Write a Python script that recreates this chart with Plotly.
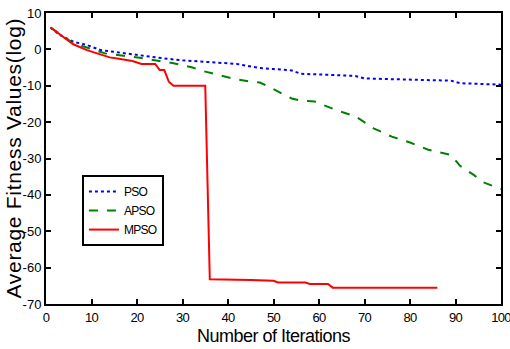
import plotly.graph_objects as go

# PSO
pso_x = [1, 3, 6, 9, 12, 16, 20, 26, 30, 36, 42, 44, 47, 50, 54, 56, 62, 68, 70, 80, 89, 91, 100]
pso_y = [6.0, 4.0, 2.1, 1.2, -0.2, -0.9, -1.5, -2.5, -3.0, -3.5, -4.0, -4.5, -5.1, -5.4, -5.8, -6.7, -7.0, -7.3, -8.0, -8.3, -8.6, -9.3, -9.7]

# APSO
apso_x = [1, 6, 13, 21, 28, 32, 34, 38, 41, 45, 47, 49, 54, 56, 59, 64, 68, 72, 76, 80, 84, 89, 91, 94, 96, 100]
apso_y = [6.0, 1.7, -1.1, -2.4, -3.8, -4.9, -5.8, -7.0, -8.0, -8.9, -9.1, -10.3, -13.5, -14.1, -14.3, -16.8, -18.4,
          -21.7, -24.0, -25.6, -27.6, -29.0, -32.0, -34.5, -36.5, -38.4]

# MPSO
mpso_x = [1, 3, 6, 9, 12, 14, 16, 19, 21, 24, 25, 26, 27, 28, 35, 36, 45, 50, 51, 57, 58, 62, 63, 86]
mpso_y = [6.0, 4.2, 1.4, -0.2, -1.3, -2.2, -2.6, -3.2, -4.0, -4.0, -5.7, -5.7, -8.9, -10.0, -10.0, -63.2, -63.4,
          -63.6, -64.1, -64.1, -64.5, -64.5, -65.5, -65.5]

x_ticks = [0, 10, 20, 30, 40, 50, 60, 70, 80, 90, 100]
y_ticks = [10, 0, -10, -20, -30, -40, -50, -60, -70]
series_names = ["PSO", "APSO", "MPSO"]

FONT = "Liberation Sans, Arial, sans-serif"


def ls(text, px):
    return f'<span style="letter-spacing:{px}px">{text}</span>'


fig = go.Figure()
fig.add_trace(go.Scatter(x=pso_x, y=pso_y, mode="lines", name=ls(series_names[0], -0.7),
                         line=dict(color="#0000ff", width=2, dash="dot")))
fig.add_trace(go.Scatter(x=apso_x, y=apso_y, mode="lines", name=ls(series_names[1], -0.7),
                         line=dict(color="#008000", width=2, dash="dash")))
fig.add_trace(go.Scatter(x=mpso_x, y=mpso_y, mode="lines", name=ls(series_names[2], -0.7),
                         line=dict(color="#ff0000", width=2)))

axis_common = dict(showgrid=False, zeroline=False, showline=True, linecolor="black", linewidth=2,
                   mirror="ticks", ticks="inside", ticklen=5, tickwidth=1.5, tickcolor="black",
                   ticklabeloverflow="allow")

fig.update_xaxes(range=[0, 100], tickvals=x_ticks, ticktext=[ls(v, -0.8) for v in x_ticks],
                 tickfont=dict(family=FONT, size=13, color="black"), automargin=False,
                 title=dict(text=ls("Number of Iterations", -0.5),
                            font=dict(family=FONT, size=18, color="black"), standoff=6),
                 **axis_common)
fig.update_yaxes(range=[-70, 10], tickvals=y_ticks, ticktext=[str(v) for v in y_ticks],
                 tickfont=dict(family=FONT, size=13, color="black"), automargin="left+right",
                 **axis_common)

fig.add_annotation(text=ls("Average Fitness Values(log)", 0.7), textangle=-90,
                   xref="paper", yref="paper", x=0, y=0.5, xanchor="center", yanchor="middle",
                   xshift=-33, showarrow=False, bgcolor="rgba(0,0,0,0)",
                   font=dict(family=FONT, size=21, color="black"))

fig.update_layout(
    width=510, height=349,
    margin=dict(l=46, r=9, t=13, b=45),
    paper_bgcolor="white", plot_bgcolor="white",
    showlegend=True,
    legend=dict(x=0.079, y=0.443, xanchor="left", yanchor="top",
                bgcolor="white", bordercolor="black", borderwidth=2,
                font=dict(family=FONT, size=12, color="black"),
                itemwidth=30, tracegroupgap=0),
)

fig.write_html("out.html")
